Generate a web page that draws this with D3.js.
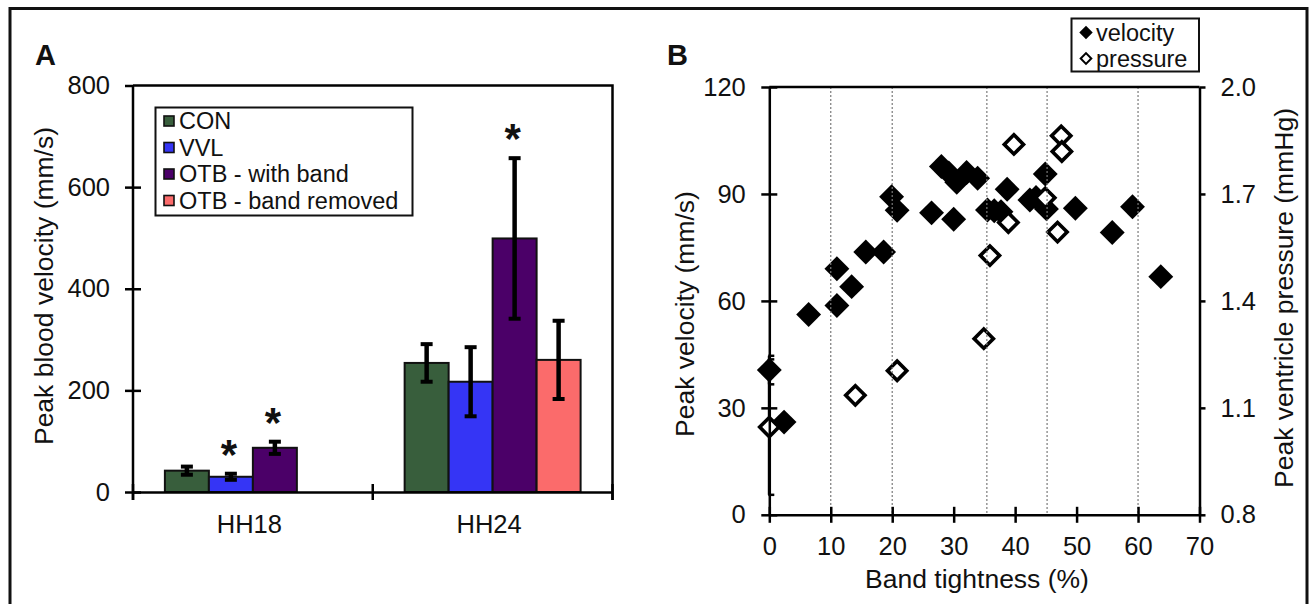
<!DOCTYPE html>
<html>
<head>
<meta charset="utf-8" />
<style>
  body { margin: 0; background: #fff; }
  svg { display: block; }
  text { font-family: Arial, "Liberation Sans", sans-serif; fill: #111; }
  .axis path, .axis line { stroke: #000; stroke-width: 2.5px; }
  .axis text { font-size: 25.5px; }
  .title { font-size: 26.5px; }
  .legend text { font-size: 23.5px; }
  .panel { font-size: 29px; font-weight: bold; }
  .star { font-size: 42px; font-weight: bold; }
  .grid line { stroke: #7a7a7a; stroke-width: 1.2px; stroke-dasharray: 2,2; }
</style>
</head>
<body>
<svg width="1316" height="604"></svg>
<script src="https://d3js.org/d3.v7.min.js"></script>
<script>
// ---- panel A data ----
var groups = ["HH18", "HH24"];
var series = ["CON", "VVL", "OTB - with band", "OTB - band removed"];
var seriesColors = ["#385e3c", "#3535f5", "#4b0068", "#fb6b6b"];
var hh18Means = [42, 30, 87, null];
var hh18Errs = [8, 6, 12, null];
var hh18Sig = [false, true, true, false];
var hh24Means = [254, 217, 499, 260];
var hh24Errs = [37, 68, 158, 77];
var hh24Sig = [false, false, true, false];
var yTicksA = [0, 200, 400, 600, 800];

// ---- panel B data ----
var velX = [0, 2.4, 6.4, 11.0, 11.0, 13.4, 15.7, 18.6, 19.9, 20.8, 26.4, 28.0, 29.2, 30.0, 30.5,
  32.1, 33.9, 35.5, 36.6, 37.7, 38.7, 42.4, 43.4, 44.9, 45.1, 49.8, 55.8, 59.1, 63.7];
var velY = [40.6, 26.0, 56.2, 69.0, 58.7, 64.0, 73.7, 73.7, 89.2, 85.4, 84.7, 97.7, 95.9, 82.9, 93.3,
  96.0, 94.4, 85.5, 85.3, 85.0, 91.3, 88.3, 89.0, 95.6, 85.8, 86.0, 79.2, 86.4, 66.8];
var presX = [0, 14.0, 20.8, 34.9, 35.9, 38.9, 39.8, 44.9, 46.9, 47.5, 47.6];
var presY = [1.046, 1.135, 1.204, 1.294, 1.527, 1.620, 1.839, 1.689, 1.593, 1.863, 1.819];
var velErr0 = 4;      // error of first velocity point
var presErr0 = 0.19;  // error of first pressure point
var gridB = [10, 20, 35.4, 45.2, 60];
var xTicksB = [0, 10, 20, 30, 40, 50, 60, 70];
var yTicksV = [0, 30, 60, 90, 120];
var yTicksP = [0.8, 1.1, 1.4, 1.7, 2.0];

var svg = d3.select("svg");

// outer frame
svg.append("rect").attr("x", 10).attr("y", 8.5).attr("width", 1297).attr("height", 640)
  .attr("fill", "none").attr("stroke", "#111").attr("stroke-width", 3);

function cleanAxis(g) {
  g.attr("font-family", null).attr("font-size", null);
}

// =================== PANEL A ===================
var gA = svg.append("g");
var x0 = d3.scaleBand().domain(groups).range([133, 612.5]);
var x1 = d3.scaleBand().domain(series).range([0, x0.bandwidth()]).paddingOuter(0.725);
var yA = d3.scaleLinear().domain([0, 800]).range([492, 85.5]);

var barData = [];
groups.forEach(function (g, gi) {
  var means = gi === 0 ? hh18Means : hh24Means;
  var errs = gi === 0 ? hh18Errs : hh24Errs;
  var sig = gi === 0 ? hh18Sig : hh24Sig;
  series.forEach(function (s, si) {
    if (means[si] == null) return;
    barData.push({ group: g, series: s, color: seriesColors[si], v: means[si], e: errs[si], sig: sig[si] });
  });
});

gA.selectAll("rect.bar").data(barData).enter().append("rect")
  .attr("class", "bar")
  .attr("x", function (d) { return x0(d.group) + x1(d.series); })
  .attr("y", function (d) { return yA(d.v); })
  .attr("width", x1.bandwidth())
  .attr("height", function (d) { return yA(0) - yA(d.v); })
  .attr("fill", function (d) { return d.color; })
  .attr("stroke", "#111").attr("stroke-width", 2);

// error bars
var eb = gA.selectAll("g.err").data(barData).enter().append("g").attr("class", "err")
  .attr("transform", function (d) { return "translate(" + (x0(d.group) + x1(d.series) + x1.bandwidth() / 2) + ",0)"; });
eb.append("line").attr("y1", function (d) { return yA(d.v + d.e); }).attr("y2", function (d) { return yA(d.v - d.e); })
  .attr("stroke", "#000").attr("stroke-width", 4.5);
eb.append("line").attr("x1", -6).attr("x2", 6).attr("y1", function (d) { return yA(d.v + d.e); }).attr("y2", function (d) { return yA(d.v + d.e); })
  .attr("stroke", "#000").attr("stroke-width", 4);
eb.append("line").attr("x1", -6).attr("x2", 6).attr("y1", function (d) { return yA(d.v - d.e); }).attr("y2", function (d) { return yA(d.v - d.e); })
  .attr("stroke", "#000").attr("stroke-width", 4);

// significance stars
gA.selectAll("text.star").data(barData.filter(function (d) { return d.sig; })).enter().append("text")
  .attr("class", "star")
  .attr("text-anchor", "middle")
  .attr("x", function (d) { return x0(d.group) + x1(d.series) + x1.bandwidth() / 2 - 2; })
  .attr("y", function (d) { return yA(d.v + d.e) - 5; })
  .text("*");

// y axis
var axA = gA.append("g").attr("class", "axis").attr("transform", "translate(133,0)")
  .call(d3.axisLeft(yA).tickValues(yTicksA).tickSize(8).tickSizeOuter(0).tickPadding(15));
cleanAxis(axA);
axA.selectAll(".tick line").attr("x1", function (d) { return d === 800 ? 0 : 8; });
axA.select(".domain").attr("d", "M0," + yA(800) + "V" + (yA(0) + 8));

// x axis
var axAx = gA.append("g").attr("class", "axis").attr("transform", "translate(0," + yA(0) + ")")
  .call(d3.axisBottom(x0).tickSize(0).tickPadding(23).tickSizeOuter(0));
cleanAxis(axAx);
axAx.selectAll("text").attr("dx", -3.5);
var bounds = groups.map(function (g) { return x0(g); }).concat([x0.range()[1]]);
gA.selectAll("line.bt").data(bounds).enter().append("line").attr("class", "bt")
  .attr("x1", function (d) { return d; }).attr("x2", function (d) { return d; })
  .attr("y1", yA(0) - 8).attr("y2", yA(0) + 8).attr("stroke", "#000").attr("stroke-width", 2.5);
// frame top / right
gA.append("path").attr("d", "M133," + yA(800) + "H" + x0.range()[1] + "V" + (yA(0) + 8))
  .attr("fill", "none").attr("stroke", "#000").attr("stroke-width", 2.5);

gA.append("text").attr("class", "title").attr("text-anchor", "middle")
  .attr("transform", "translate(44,286) rotate(-90)").attr("dy", "0.35em")
  .text("Peak blood velocity (mm/s)");
gA.append("text").attr("class", "panel").attr("x", 35).attr("y", 65).text("A");

// legend A
var legA = gA.append("g").attr("class", "legend");
legA.append("rect").attr("x", 155.5).attr("y", 107.5).attr("width", 257).attr("height", 108)
  .attr("fill", "#fff").attr("stroke", "#111").attr("stroke-width", 2);
var legRows = legA.selectAll("g.row").data(series).enter().append("g")
  .attr("transform", function (d, i) { return "translate(0," + (121 + i * 26.5) + ")"; });
legRows.append("rect").attr("x", 164).attr("y", -5).attr("width", 10).attr("height", 10)
  .attr("fill", function (d, i) { return seriesColors[i]; }).attr("stroke", "#111").attr("stroke-width", 1.6);
legRows.append("text").attr("x", 179).attr("dy", "0.36em").text(function (d) { return d; });

// =================== PANEL B ===================
var gB = svg.append("g");
var xB = d3.scaleLinear().domain([0, 70]).range([769.3, 1199.5]);
var yV = d3.scaleLinear().domain([0, 120]).range([514.8, 87]);
var yP = d3.scaleLinear().domain([0.8, 2.0]).range([514.8, 87]);

var filledSym = d3.symbol().type(d3.symbolSquare).size(310);
var hollowSym = d3.symbol().type(d3.symbolSquare).size(185);

var velData = velX.map(function (x, i) { return { x: x, y: velY[i] }; });
var presData = presX.map(function (x, i) { return { x: x, y: presY[i] }; });

// error bars at x = 0
var errG = gB.append("g").attr("stroke", "#000");
[[yV(velY[0] + velErr0), yV(velY[0] - velErr0)], [yP(presY[0] + presErr0), yP(presY[0] - presErr0)]].forEach(function (r) {
  errG.append("line").attr("x1", xB(0)).attr("x2", xB(0)).attr("y1", r[0]).attr("y2", r[1]).attr("stroke-width", 3);
  r.forEach(function (yy) {
    errG.append("line").attr("x1", xB(0) - 1).attr("x2", xB(0) + 5).attr("y1", yy).attr("y2", yy).attr("stroke-width", 2.5);
  });
});

gB.selectAll("path.vel").data(velData).enter().append("path").attr("class", "vel")
  .attr("d", filledSym)
  .attr("transform", function (d) { return "translate(" + xB(d.x) + "," + yV(d.y) + ") rotate(45)"; })
  .attr("fill", "#000");

gB.selectAll("path.pres").data(presData).enter().append("path").attr("class", "pres")
  .attr("d", hollowSym)
  .attr("transform", function (d) { return "translate(" + xB(d.x) + "," + yP(d.y) + ") rotate(45)"; })
  .attr("fill", "#fff").attr("stroke", "#000").attr("stroke-width", 3.6);

// grid (drawn over the markers, as in the figure)
gB.append("g").attr("class", "grid").selectAll("line").data(gridB).enter().append("line")
  .attr("x1", function (d) { return xB(d); }).attr("x2", function (d) { return xB(d); })
  .attr("y1", yV(120)).attr("y2", yV(0));

// axes
var axBl = gB.append("g").attr("class", "axis").attr("transform", "translate(" + xB(0) + ",0)")
  .call(d3.axisLeft(yV).tickValues(yTicksV).tickSize(8).tickSizeOuter(0).tickPadding(15.5));
cleanAxis(axBl);
axBl.selectAll(".tick line").attr("x1", 8);

var axBr = gB.append("g").attr("class", "axis").attr("transform", "translate(" + xB(70) + ",0)")
  .call(d3.axisRight(yP).tickValues(yTicksP).tickSize(6).tickSizeOuter(0).tickPadding(15).tickFormat(d3.format(".1f")));
cleanAxis(axBr);

var axBb = gB.append("g").attr("class", "axis").attr("transform", "translate(0," + yV(0) + ")")
  .call(d3.axisBottom(xB).tickValues(xTicksB).tickSize(8).tickSizeOuter(0).tickPadding(14));
cleanAxis(axBb);
axBb.selectAll(".tick line").attr("y1", -8);

gB.append("line").attr("x1", xB(0)).attr("x2", xB(70)).attr("y1", yV(120)).attr("y2", yV(120))
  .attr("stroke", "#000").attr("stroke-width", 2.5);

gB.append("text").attr("class", "title").attr("text-anchor", "middle")
  .attr("transform", "translate(685,314) rotate(-90)").attr("dy", "0.35em")
  .text("Peak velocity (mm/s)");
gB.append("text").attr("class", "title").attr("text-anchor", "middle")
  .attr("transform", "translate(1284,298) rotate(-90)").attr("dy", "0.35em")
  .text("Peak ventricle pressure (mmHg)");
gB.append("text").attr("class", "title").attr("text-anchor", "middle")
  .attr("x", 977).attr("y", 588).text("Band tightness (%)");
gB.append("text").attr("class", "panel").attr("x", 667).attr("y", 65).text("B");

// legend B
var legB = gB.append("g").attr("class", "legend");
legB.append("rect").attr("x", 1071.5).attr("y", 18.5).attr("width", 127.5).attr("height", 53)
  .attr("fill", "#fff").attr("stroke", "#111").attr("stroke-width", 2);
var legBItems = [{ name: "velocity", fill: "#000" }, { name: "pressure", fill: "#fff" }];
var legBRows = legB.selectAll("g.row").data(legBItems).enter().append("g")
  .attr("transform", function (d, i) { return "translate(0," + (32.5 + i * 26) + ")"; });
legBRows.append("path").attr("d", d3.symbol().type(d3.symbolSquare).size(56))
  .attr("transform", "translate(1086,0) rotate(45)")
  .attr("fill", function (d) { return d.fill; }).attr("stroke", "#000").attr("stroke-width", 2);
legBRows.append("text").attr("x", 1096).attr("dy", "0.36em").text(function (d) { return d.name; });
</script>
</body>
</html>
